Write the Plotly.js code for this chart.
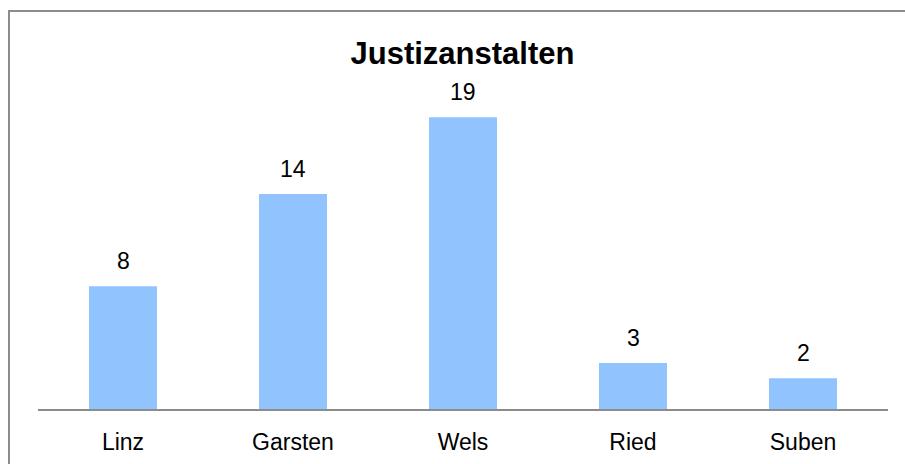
<!DOCTYPE html>
<html>
<head>
<meta charset="utf-8">
<script src="https://cdn.plot.ly/plotly-3.0.1.min.js"></script>
<style>
  html, body { margin: 0; padding: 0; background: #fff; overflow: hidden; }
  #wrap { position: relative; width: 905px; height: 464px; }
  #chart { width: 905px; height: 464px; }
  #frame { position: absolute; left: 8px; top: 10px; width: 1000px; height: 1000px;
           border-left: 2px solid #8c8c8c; border-top: 2px solid #8c8c8c; pointer-events: none; }
</style>
</head>
<body>
<div id="wrap">
  <div id="chart"></div>
  <div id="frame"></div>
</div>
<script>
const categories = ["Linz", "Garsten", "Wels", "Ried", "Suben"];
const values = [8, 14, 19, 3, 2];
const chartTitle = "Justizanstalten";

const font = "Liberation Sans, Arial, sans-serif";

const trace = {
  type: "bar",
  x: categories,
  y: values,
  marker: { color: "#91c4ff" },
  hoverinfo: "skip"
};

const annotations = categories.map((c, i) => ({
  x: c, y: values[i], xref: "x", yref: "y",
  text: String(values[i]), showarrow: false,
  yanchor: "bottom", yshift: 10,
  font: { family: font, size: 23, color: "#000" }
}));

const layout = {
  width: 905, height: 464,
  margin: { l: 38, r: 17, t: 102, b: 55 },
  paper_bgcolor: "#fff", plot_bgcolor: "#fff",
  bargap: 0.6,
  showlegend: false,
  title: {
    text: "<b>" + chartTitle + "</b>",
    font: { family: font, size: 31, color: "#000" },
    x: 0.511, xanchor: "center",
    y: 1 - 53 / 464, yref: "container", yanchor: "middle"
  },
  xaxis: {
    showline: true, linecolor: "#8c8c8c", linewidth: 2,
    ticks: "", showgrid: false, zeroline: false,
    tickfont: { family: font, size: 23, color: "#000" },
    ticklabelstandoff: 11
  },
  yaxis: {
    range: [0, 20], visible: false, showgrid: false, zeroline: false
  },
  annotations: annotations
};

Plotly.newPlot("chart", [trace], layout, { displayModeBar: false, staticPlot: true });
</script>
</body>
</html>
